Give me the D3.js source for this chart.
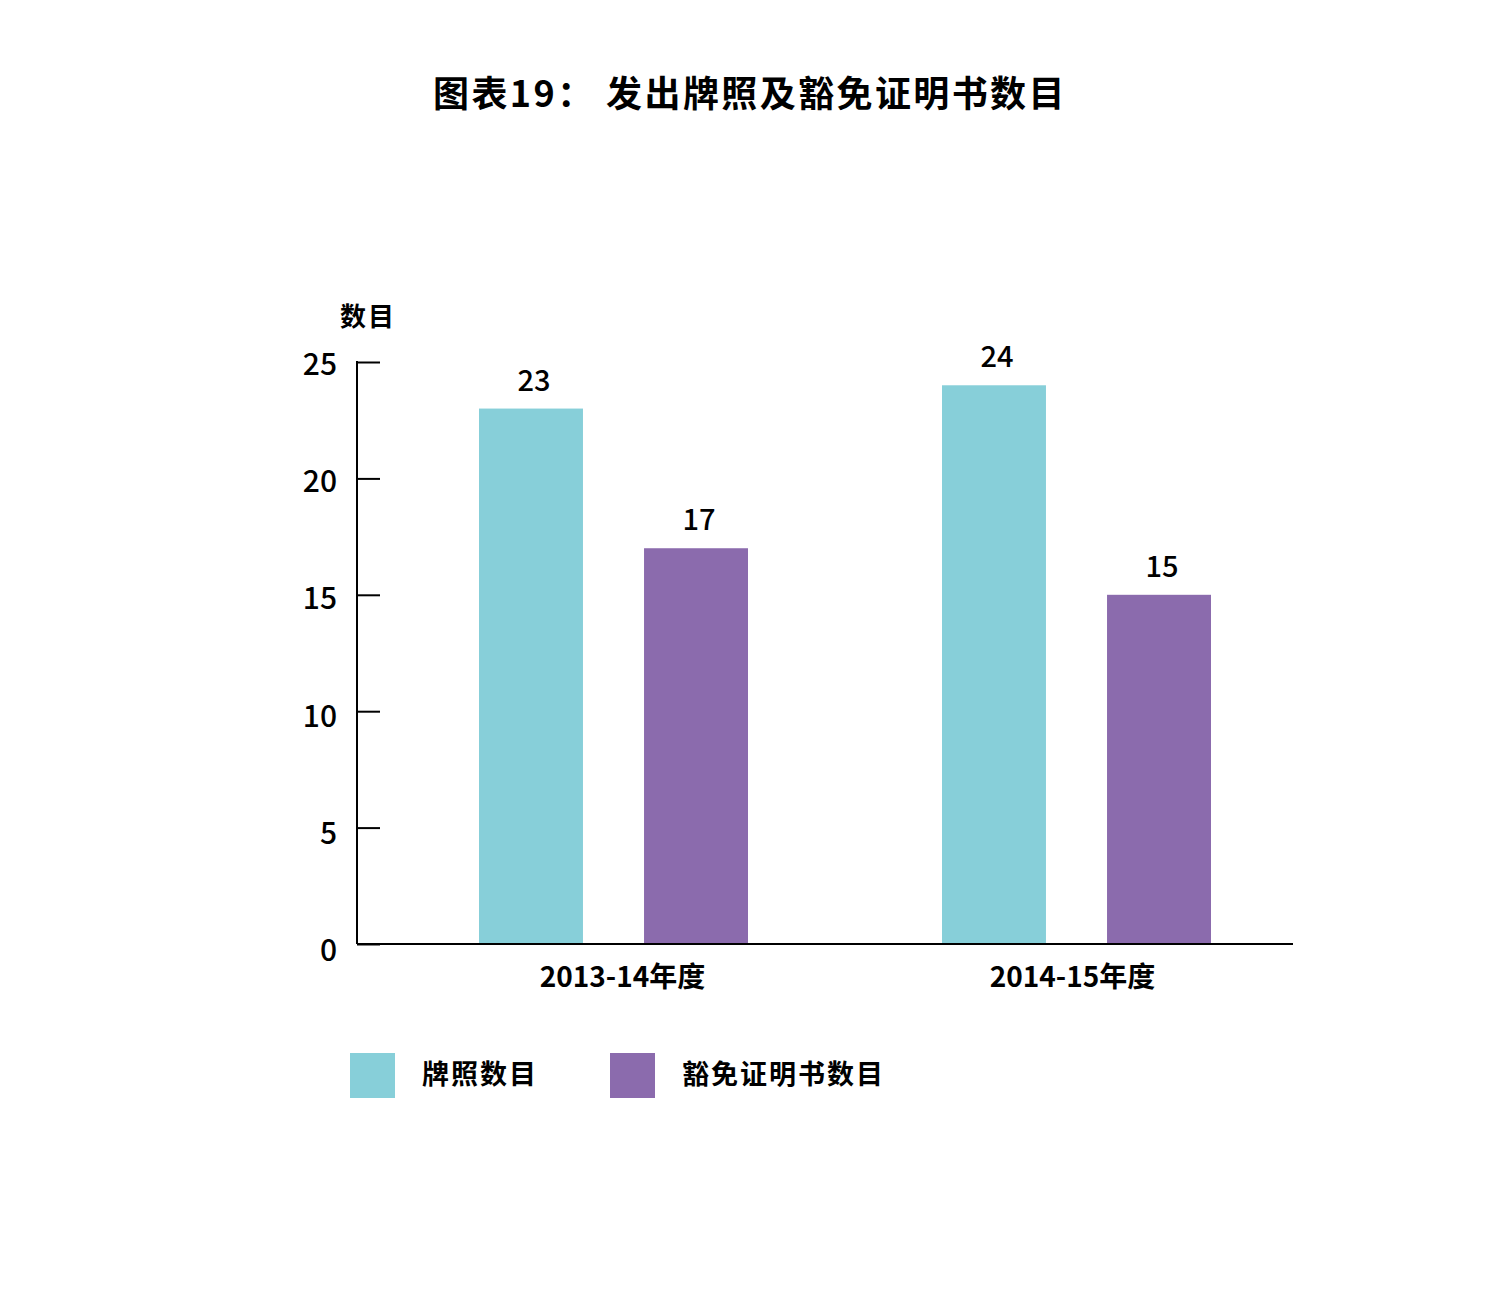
<!DOCTYPE html>
<html>
<head>
<meta charset="utf-8">
<script src="https://cdn.jsdelivr.net/npm/d3@7"></script>
<style>
  body { margin: 0; background: #fff; }
  text { font-family: "Noto Sans CJK SC", sans-serif; fill: #000; }
  .num { font-weight: 500; }
  .cjk { font-weight: bold; }
</style>
</head>
<body>
<div id="container"></div>
<script>
const title = "图表19： 发出牌照及豁免证明书数目";
const yLabel = "数目";
const years = ["2013-14年度", "2014-15年度"];
const seriesNames = ["牌照数目", "豁免证明书数目"];
const licences = [23, 24];
const exemptions = [17, 15];
const yTicks = [0, 5, 10, 15, 20, 25];
const colors = ["#87cfd9", "#8b6bad"];

const w = 1500;
const h = 1300;

const svg = d3.select("#container")
  .append("svg")
  .attr("width", w)
  .attr("height", h);

// title
svg.append("text")
  .attr("class", "cjk")
  .attr("x", 750)
  .attr("y", 107)
  .attr("text-anchor", "middle")
  .attr("font-size", 36)
  .attr("letter-spacing", 2.4)
  .text(title);

// scales
const y = d3.scaleLinear().domain([0, 25]).range([944, 362]);
const x0 = d3.scaleBand().domain(years).range([382, 1308]);
const x1 = d3.scaleBand().domain(seriesNames).range([97, 366]).paddingInner(0.37);

// bars
const rows = years.map((yr, i) => ({ year: yr, values: [licences[i], exemptions[i]] }));

const groups = svg.append("g")
  .selectAll("g")
  .data(rows)
  .enter()
  .append("g")
  .attr("transform", d => `translate(${x0(d.year)},0)`);

groups.selectAll("rect")
  .data(d => d.values.map((v, j) => ({ name: seriesNames[j], value: v, j })))
  .enter()
  .append("rect")
  .attr("x", d => x1(d.name))
  .attr("y", d => y(d.value))
  .attr("width", x1.bandwidth())
  .attr("height", d => y(0) - y(d.value))
  .attr("fill", d => colors[d.j]);

groups.selectAll(".val")
  .data(d => d.values.map((v, j) => ({ name: seriesNames[j], value: v })))
  .enter()
  .append("text")
  .attr("class", "val num")
  .attr("x", d => x1(d.name) + x1.bandwidth() / 2 + 3)
  .attr("y", d => y(d.value) - 18)
  .attr("text-anchor", "middle")
  .attr("font-size", 29)
  .text(d => d.value);

// y axis: ticks pointing inward
const yAxis = d3.axisRight(y).tickValues(yTicks).tickSize(23).tickFormat("");
const yg = svg.append("g")
  .attr("transform", "translate(357,0)")
  .call(yAxis);
yg.select(".domain").remove();
yg.selectAll("line").attr("stroke", "#000").attr("stroke-width", 2);
svg.append("line")
  .attr("x1", 357).attr("x2", 357)
  .attr("y1", y(25) - 1).attr("y2", y(0))
  .attr("stroke", "#000").attr("stroke-width", 2);

svg.append("g")
  .selectAll("text")
  .data(yTicks)
  .enter()
  .append("text")
  .attr("class", "num")
  .attr("x", 337)
  .attr("y", d => y(d) + 13 + (25 - d) * 0.16)
  .attr("text-anchor", "end")
  .attr("font-size", 30)
  .text(d => d);

svg.append("text")
  .attr("class", "cjk")
  .attr("x", 368)
  .attr("y", 326)
  .attr("text-anchor", "middle")
  .attr("font-size", 26)
  .attr("letter-spacing", 2)
  .text(yLabel);

// x axis
svg.append("line")
  .attr("x1", 357).attr("x2", 1293)
  .attr("y1", y(0)).attr("y2", y(0))
  .attr("stroke", "#000").attr("stroke-width", 2);

svg.append("g")
  .selectAll("text")
  .data(years)
  .enter()
  .append("text")
  .attr("class", "cjk")
  .attr("x", (d, i) => x0(d) + x0.bandwidth() / 2 + (i === 0 ? 9 : -4))
  .attr("y", 987)
  .attr("text-anchor", "middle")
  .attr("font-size", 28)
  .text(d => d);

// legend
const legendX = [350, 610];
const legend = svg.append("g")
  .selectAll("g")
  .data(seriesNames)
  .enter()
  .append("g")
  .attr("transform", (d, i) => `translate(${legendX[i]},1053)`);

legend.append("rect")
  .attr("width", 45)
  .attr("height", 45)
  .attr("fill", (d, i) => colors[i]);

legend.append("text")
  .attr("class", "cjk")
  .attr("x", 72)
  .attr("y", 31)
  .attr("font-size", 27)
  .attr("letter-spacing", 2)
  .text(d => d);
</script>
</body>
</html>
